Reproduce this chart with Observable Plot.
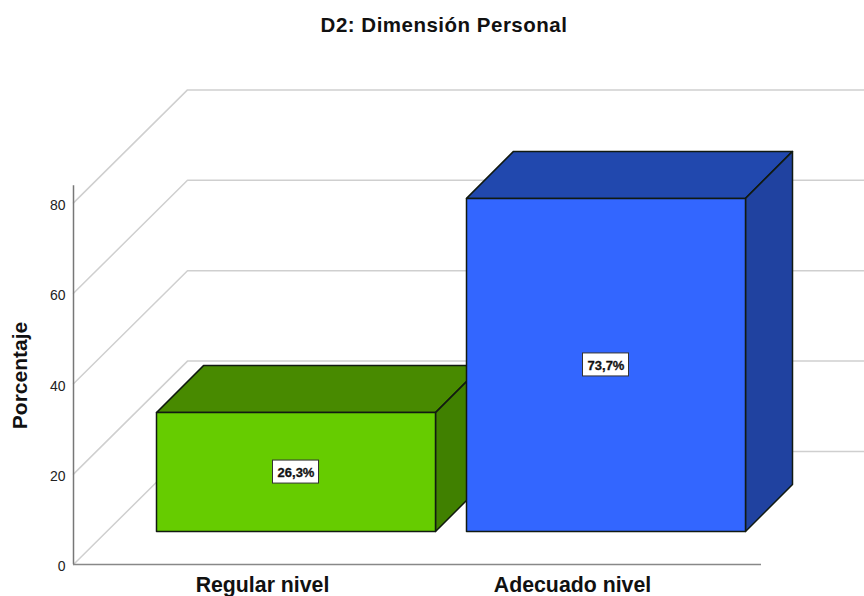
<!DOCTYPE html>
<html>
<head>
<meta charset="utf-8">
<script src="https://cdn.jsdelivr.net/npm/d3@7"></script>
<script src="https://cdn.jsdelivr.net/npm/@observablehq/plot@0.6"></script>
<style>
html,body{margin:0;padding:0;background:#fff;}
#title{height:44px;width:864px;box-sizing:border-box;padding-left:24px;text-align:center;font:bold 20.5px "Liberation Sans",Arial,sans-serif;letter-spacing:0.5px;line-height:50px;color:#111;}
#chart svg{display:block;}
</style>
</head>
<body>
<div id="title"></div>
<div id="chart"></div>
<script>
const titleText = "D2: Dimensión Personal";
const yLabel = "Porcentaje";
const categories = ["Regular nivel", "Adecuado nivel"];
const values = [26.3, 73.7];
const valueLabels = ["26,3%", "73,7%"];
const yTicks = [0, 20, 40, 60, 80];
const frontColors = ["#66CC00", "#3366FF"];
const topColors = ["#488A00", "#2148AE"];
const sideColors = ["#408000", "#2042A0"];

// Oblique projection, in scale units: one x unit is one category slot.
const pxX = 310, pxY = 4.52;
const xMax = 791 / pxX, yMax = 520 / pxY;
const barStart = 83 / pxX, barWidth = 279 / pxX;
const floorY = 33 / pxY;
const depthX = 47 / pxX, depthY = 47 / pxY;
const wallX = 114 / pxX, wallY = 113 / pxY;

document.getElementById("title").textContent = titleText;

const grid = yTicks.flatMap(t => [
  {t, x: 0, y: t},
  {t, x: wallX, y: t + wallY},
  {t, x: xMax, y: t + wallY}
]);

const faces = categories.flatMap((c, i) => {
  const x0 = i + barStart, x1 = x0 + barWidth;
  const y0 = floorY, y1 = floorY + values[i];
  const poly = (face, fill, pts) => pts.map(([x, y]) => ({id: c + face, fill, x, y}));
  return [
    ...poly("top", topColors[i], [[x0, y1], [x0 + depthX, y1 + depthY], [x1 + depthX, y1 + depthY], [x1, y1]]),
    ...poly("side", sideColors[i], [[x1, y0], [x1 + depthX, y0 + depthY], [x1 + depthX, y1 + depthY], [x1, y1]]),
    ...poly("front", frontColors[i], [[x0, y0], [x1, y0], [x1, y1], [x0, y1]])
  ];
});

const labels = categories.map((c, i) => ({
  x: i + barStart + barWidth / 2,
  y: floorY + values[i] / 2,
  text: valueLabels[i]
}));
const boxW = 23 / pxX, boxH = 11.5 / pxY;

const font = '"Liberation Sans",Arial,sans-serif';

const chart = Plot.plot({
  width: 864, height: 552,
  marginTop: 0, marginBottom: 32, marginLeft: 73, marginRight: 0,
  x: {domain: [0, xMax]},
  y: {domain: [0, yMax]},
  color: {type: "identity"},
  style: {background: "#fff", fontFamily: font, overflow: "visible"},
  marks: [
    Plot.line(grid, {x: "x", y: "y", z: "t", stroke: "#cfcfcf", strokeWidth: 1.5}),
    Plot.line(faces, {x: "x", y: "y", z: "id", fill: "fill", curve: "linear-closed", stroke: "#111a11", strokeWidth: 1.5, strokeLinejoin: "round"}),
    Plot.rect(labels, {x1: d => d.x - boxW, x2: d => d.x + boxW, y1: d => d.y - boxH, y2: d => d.y + boxH, fill: "#fff", stroke: "#333", strokeWidth: 1}),
    Plot.text(labels, {x: "x", y: "y", dy: 1, text: "text", fontSize: 13, fontWeight: "bold", fill: "#111", stroke: "#111", strokeWidth: 0.3}),
    Plot.ruleX([0], {y1: 0, y2: 83.8, stroke: "#777", strokeWidth: 1.5}),
    Plot.ruleY([0], {x1: 0, x2: 688 / pxX, stroke: "#888", strokeWidth: 1.5}),
    Plot.axisY({ticks: yTicks, tickSize: 0, tickPadding: 8, label: null, fontSize: 14, color: "#222", dy: 2.5}),
    Plot.axisX({ticks: categories.map((c, i) => i + 189 / pxX), tickFormat: (d, i) => categories[i], tickSize: 0, tickPadding: 12, label: null, fontSize: 21.3, fontWeight: "bold", color: "#111"}),
    Plot.text([yLabel], {x: -53 / pxX, y: 189 / pxY, text: d => d, rotate: -90, fontSize: 21, fontWeight: "bold", fill: "#111"})
  ]
});
document.getElementById("chart").appendChild(chart);
</script>
</body>
</html>
